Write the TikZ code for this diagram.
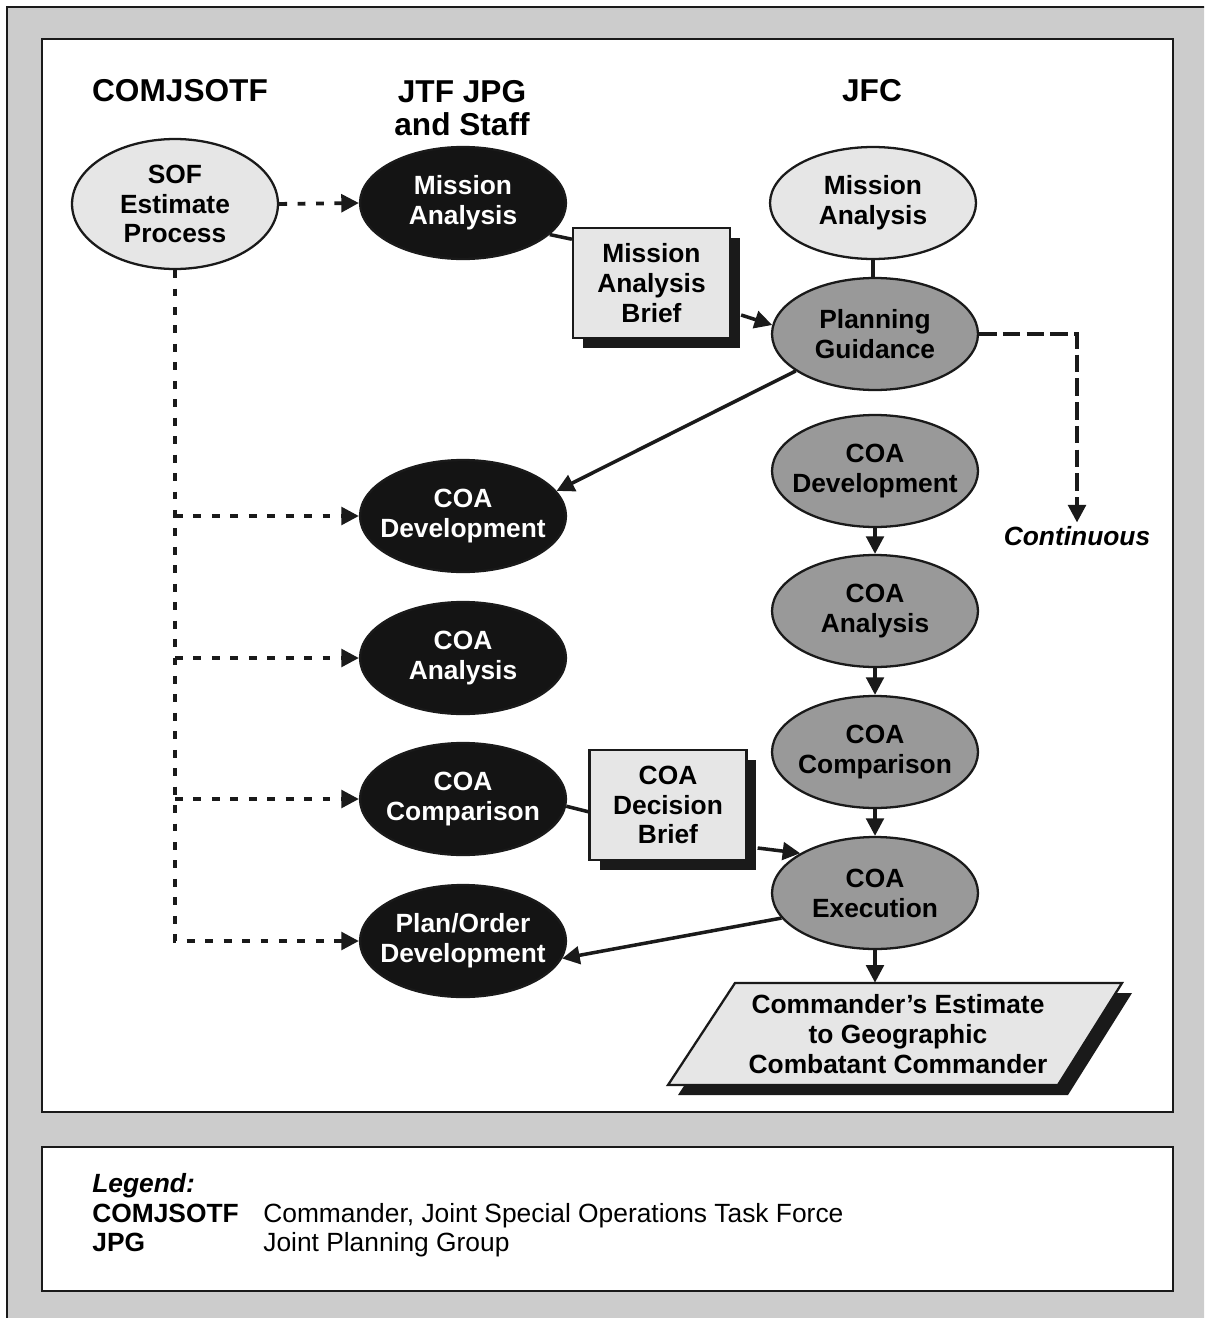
\documentclass[tikz,border=0pt]{standalone}
\usepackage{fontspec}
\setmainfont{Liberation Sans}
\usepackage{tikz}
\usetikzlibrary{shapes.geometric, arrows.meta, positioning, calc, shadows}
\definecolor{bggray}{RGB}{204,204,204}
\definecolor{lightfill}{RGB}{230,230,230}
\definecolor{midfill}{RGB}{153,153,153}
\definecolor{darkfill}{RGB}{20,20,20}
\definecolor{inkdark}{RGB}{26,26,26}
\newcommand{\ellfont}{\fontsize{15}{17}\selectfont\bfseries}
\newcommand{\headfont}{\fontsize{18}{19}\selectfont\bfseries}
\newcommand{\legfont}{\fontsize{15}{17}\selectfont}
\tikzset{
  ellbase/.style={ellipse, line width=1.3pt, draw=inkdark,
    minimum width=4.12cm, minimum height=2.24cm,
    inner xsep=-2cm, inner ysep=-1cm, align=center, font=\ellfont},
  lightell/.style={ellbase, fill=lightfill, text=black},
  grayell/.style={ellbase, fill=midfill, text=black},
  darkell/.style={ellbase, fill=darkfill, text=white},
  briefbox/.style={rectangle, draw=inkdark, fill=lightfill, line width=1.3pt,
    minimum width=3.14cm, minimum height=2.2cm, inner sep=0pt,
    align=center, font=\ellfont,
    drop shadow={shadow xshift=0.2cm, shadow yshift=-0.2cm,
      fill=inkdark, opacity=1}},
  headtext/.style={align=center, font=\headfont, inner sep=0pt},
  legbold/.style={anchor=base west, inner sep=0pt, font=\legfont\bfseries},
  legtext/.style={anchor=base west, inner sep=0pt, font=\legfont},
  arrow/.style={-{Triangle[length=10pt,width=10pt]}, line width=2pt, color=inkdark},
  line/.style={line width=2pt, color=inkdark},
  dotline/.style={line width=2.2pt, dash pattern=on 4.5pt off 6pt, color=inkdark},
  dotarrow/.style={dotline, -{Triangle[length=10pt,width=10pt]}},
  dasharrow/.style={line width=2.2pt, dash pattern=on 10pt off 3.5pt, color=inkdark,
    -{Triangle[length=10pt,width=10pt]}}
}

\begin{document}
\begin{tikzpicture}[x=0.02cm, y=-0.02cm]
  \useasboundingbox (0,0) rectangle (1204,1318);
  \clip (0,0) rectangle (1204,1318);

  % Frames
  \fill[white] (0,0) rectangle (1204,1318);
  \draw[fill=bggray, draw=inkdark, line width=1.5pt] (7,7) rectangle (1260,1370);
  \draw[fill=white, draw=inkdark, line width=1.5pt] (42,39) rectangle (1173,1112);
  \draw[fill=white, draw=inkdark, line width=1.5pt] (42,1147) rectangle (1173,1291);

  % Column headers
  \node[headtext] (hcom) at (180,91) {COMJSOTF};
  \node[headtext] (hjtf) at (462,108) {JTF JPG\\and Staff};
  \node[headtext] (hjfc) at (872,91) {JFC};

  % COMJSOTF
  \node[lightell, minimum height=2.6cm] (sof) at (175,204) {SOF\\Estimate\\Process};

  % JTF JPG and staff
  \node[darkell] (jtfma) at (463,203) {Mission\\Analysis};
  \node[darkell] (jtfdev) at (463,516) {COA\\Development};
  \node[darkell] (jtfana) at (463,658) {COA\\Analysis};
  \node[darkell] (jtfcmp) at (463,799) {COA\\Comparison};
  \node[darkell] (jtfplan) at (463,941) {Plan/Order\\Development};

  % JFC
  \node[lightell] (jfcma) at (873,203) {Mission\\Analysis};
  \node[grayell] (jfcpg) at (875,334) {Planning\\Guidance};
  \node[grayell] (jfcdev) at (875,471) {COA\\Development};
  \node[grayell] (jfcana) at (875,611) {COA\\Analysis};
  \node[grayell] (jfccmp) at (875,752) {COA\\Comparison};
  \node[grayell] (jfcexe) at (875,893) {COA\\Execution};

  % Briefs
  \node[briefbox] (mabrief) at (651.5,283) {Mission\\Analysis\\Brief};
  \node[briefbox] (decbrief) at (668,805) {COA\\Decision\\Brief};

  % Commander's estimate
  \fill[inkdark] (678,1095) -- (745,993) -- (1132,993) -- (1068,1095) -- cycle;
  \draw[fill=lightfill, draw=inkdark, line width=1.3pt]
    (668,1085) -- (735,983) -- (1122,983) -- (1058,1085) -- cycle;
  \node[align=center, font=\ellfont, inner sep=0pt, minimum height=2.04cm]
    (cmdest) at (898,1034) {Commander's Estimate\\to Geographic\\Combatant Commander};

  % SOF estimate feeds
  \draw[dotarrow] (sof.east) -- (jtfma.west);
  \draw[dotarrow] (sof.south) |- (jtfplan.west);
  \foreach \n in {jtfdev, jtfana, jtfcmp}
    \draw[dotarrow] (sof.south |- \n.west) -- (\n.west);

  % Mission analysis brief
  \draw[line] (jtfma.-20) -- ($(mabrief.north west)!0.11!(mabrief.south west)$);
  \draw[arrow] ($(mabrief.east)+(10,32)$) -- (jfcpg.175);
  \draw[line] (jfcma.south) -- (jfcma.south |- jfcpg.north);

  % Continuous
  \node[font=\ellfont\itshape, inner sep=2pt] (cont) at (1077,536) {Continuous};
  \draw[dasharrow] (jfcpg.east) -| (cont.north);

  % Guidance to JTF
  \draw[arrow] (jfcpg.205) -- (jtfdev.15);

  % JFC sequence
  \foreach \a/\b in {jfcdev/jfcana, jfcana/jfccmp, jfccmp/jfcexe}
    \draw[arrow] (\a) -- (\b);

  % Decision brief
  \draw[line] (jtfcmp.-4) -- ($(decbrief.north west)!0.56!(decbrief.south west)$);
  \draw[arrow] ($(decbrief.east)+(10,43)$) -- (jfcexe.152);
  \draw[arrow] (jfcexe.195) -- (jtfplan.-10);
  \draw[arrow] (jfcexe.south) -- (jfcexe.south |- cmdest.north);

  % Legend
  \node[legbold] (leghead) at (92,1192) {\itshape Legend:};
  \node[legbold] (legcom) at (92,1222) {COMJSOTF};
  \node[legtext] (legcomtxt) at (263,1222) {Commander, Joint Special Operations Task Force};
  \node[legbold] (legjpg) at (92,1251) {JPG};
  \node[legtext] (legjpgtxt) at (263,1251) {Joint Planning Group};
\end{tikzpicture}
\end{document}
